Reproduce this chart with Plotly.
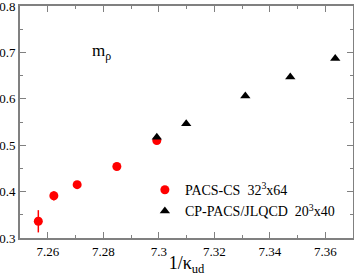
import plotly.graph_objects as go

# PACS-CS 32^3x64
pacs_x = [7.2566, 7.2622, 7.2706, 7.2849, 7.2993]
pacs_y = [0.336, 0.391, 0.415, 0.454, 0.510]
pacs_err = [0.024, 0.010, 0.0, 0.0, 0.0]

# CP-PACS/JLQCD 20^3x40
cp_x = [7.2993, 7.3099, 7.3312, 7.3474, 7.3636]
cp_y = [0.517, 0.546, 0.606, 0.647, 0.687]

x_ticks = [7.26, 7.28, 7.30, 7.32, 7.34, 7.36]
x_ticklabels = ["7.26", "7.28", "7.3", "7.32", "7.34", "7.36"]
y_ticks = [0.3, 0.4, 0.5, 0.6, 0.7, 0.8]
y_ticklabels = ["0.3", "0.4", "0.5", "0.6", "0.7", "0.8"]

FONT = "Liberation Serif, Times New Roman, DejaVu Serif, serif"
AX = "#808080"

fig = go.Figure()
fig.add_trace(go.Scatter(
    x=pacs_x, y=pacs_y, mode="markers",
    name="PACS-CS  32<sup>3</sup>x64",
    marker=dict(symbol="circle", size=9, color="#ff0000"),
    error_y=dict(type="data", array=pacs_err, color="#ff0000", thickness=1.5, width=0),
))
fig.add_trace(go.Scatter(
    x=cp_x, y=cp_y, mode="markers",
    name="CP-PACS/JLQCD  20<sup>3</sup>x40",
    marker=dict(symbol="triangle-up", size=9, color="#000000"),
))

axis_common = dict(
    showgrid=False, zeroline=False, showline=True, linecolor=AX, linewidth=2,
    mirror="allticks", ticks="inside", ticklen=6, tickcolor=AX, tickwidth=1,
    tickfont=dict(family=FONT, size=13, color="black"), automargin=False,
    ticklabeloverflow="allow",
)
fig.update_xaxes(
    range=[7.25, 7.37], tickvals=x_ticks, ticktext=x_ticklabels,
    minor=dict(dtick=0.01, ticks="inside", ticklen=3, tickcolor=AX),
    title=dict(text="1/κ<sub>ud</sub>", font=dict(family=FONT, size=18, color="black"), standoff=4),
    **axis_common,
)
fig.update_yaxes(
    range=[0.3, 0.8], tickvals=y_ticks, ticktext=y_ticklabels,
    minor=dict(dtick=0.05, ticks="inside", ticklen=3, tickcolor=AX),
    **axis_common,
)

fig.add_annotation(
    x=7.2753, y=0.701, xref="x", yref="y", xanchor="left", yanchor="middle",
    text="m<sub>ρ</sub>", showarrow=False,
    font=dict(family=FONT, size=17, color="black"),
)

fig.update_layout(
    width=354, height=276,
    margin=dict(l=20, r=1, t=6, b=38, autoexpand=False),
    paper_bgcolor="white", plot_bgcolor="white",
    showlegend=True,
    hovermode=False,
    legend=dict(
        x=0.375, y=0.275, xanchor="left", yanchor="top",
        bgcolor="rgba(0,0,0,0)", borderwidth=0,
        font=dict(family=FONT, size=14, color="black"),
        itemwidth=30, tracegroupgap=0,
    ),
)

fig.write_html(
    "out.html",
    config={"displayModeBar": False, "staticPlot": True},
    post_script="document.body.style.margin='0';document.body.style.overflow='hidden';",
)
